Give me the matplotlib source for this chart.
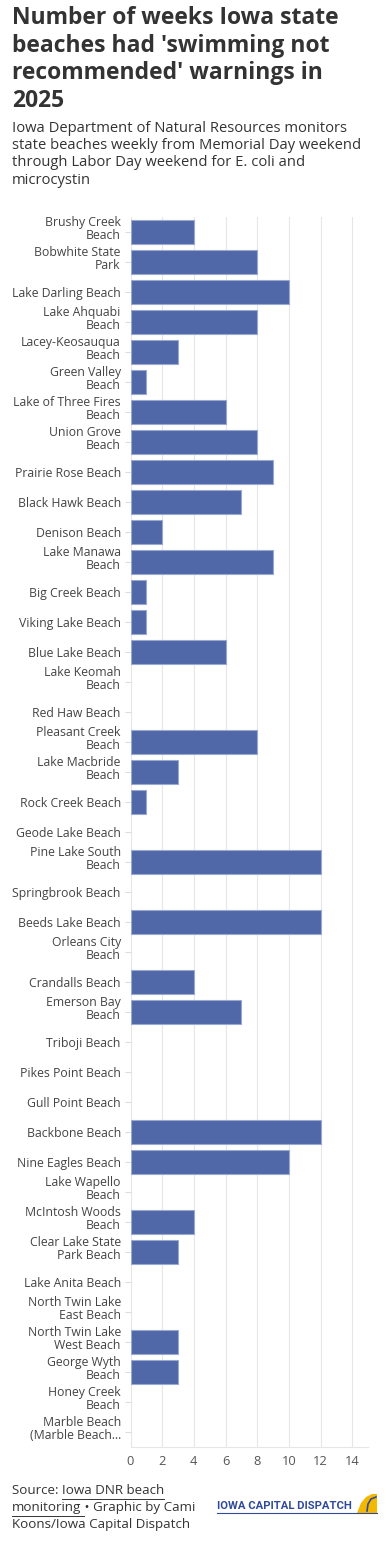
import matplotlib
matplotlib.use("Agg")
import matplotlib.pyplot as plt
from matplotlib.patches import Polygon
from matplotlib.transforms import ScaledTranslation

beaches = [
    "Brushy Creek\nBeach", "Bobwhite State\nPark", "Lake Darling Beach", "Lake Ahquabi\nBeach",
    "Lacey-Keosauqua\nBeach", "Green Valley\nBeach", "Lake of Three Fires\nBeach", "Union Grove\nBeach",
    "Prairie Rose Beach", "Black Hawk Beach", "Denison Beach", "Lake Manawa\nBeach",
    "Big Creek Beach", "Viking Lake Beach", "Blue Lake Beach", "Lake Keomah\nBeach",
    "Red Haw Beach", "Pleasant Creek\nBeach", "Lake Macbride\nBeach", "Rock Creek Beach",
    "Geode Lake Beach", "Pine Lake South\nBeach", "Springbrook Beach", "Beeds Lake Beach",
    "Orleans City\nBeach", "Crandalls Beach", "Emerson Bay\nBeach", "Triboji Beach",
    "Pikes Point Beach", "Gull Point Beach", "Backbone Beach", "Nine Eagles Beach",
    "Lake Wapello\nBeach", "McIntosh Woods\nBeach", "Clear Lake State\nPark Beach", "Lake Anita Beach",
    "North Twin Lake\nEast Beach", "North Twin Lake\nWest Beach", "George Wyth\nBeach", "Honey Creek\nBeach",
    "Marble Beach\n(Marble Beach...",
]
weeks = [4, 8, 10, 8, 3, 1, 6, 8, 9, 7, 2, 9, 1, 1, 6, 0, 0, 8, 3, 1, 0, 12, 0, 12, 0,
         4, 7, 0, 0, 0, 12, 10, 0, 4, 3, 0, 0, 3, 3, 0, 0]
xticks = [0, 2, 4, 6, 8, 10, 12, 14]

FONT = ["Open Sans", "DejaVu Sans"]
plt.rcParams['font.family'] = FONT

W, H = 389, 1552
fig = plt.figure(figsize=(W / 100, H / 100), dpi=100)
ax = fig.add_axes([130.5 / W, (H - 1447) / H, (368 - 130.5) / W, 1230 / H])

y = list(range(len(beaches)))
lws = [0.8 if v > 0 else 0 for v in weeks]
ax.barh(y, weeks, height=0.8, color="#5067a8", edgecolor="#9aa9d2", linewidth=lws, zorder=3)
ax.set_ylim(len(beaches) - 0.5, -0.5)
ax.set_xlim(0, 15)
ax.set_yticks(y)
ax.set_yticklabels(beaches, fontsize=8.8, color="#444444", linespacing=0.98)
ax.set_xticks(xticks)
ax.set_xticklabels([str(t) for t in xticks], fontsize=9.3, color="#555555")
ax.tick_params(axis='y', length=4, color="#dddddd", pad=3)
ax.tick_params(axis='x', length=0, pad=6)
ax.grid(axis='x', color="#e6e6e6", linewidth=0.8, zorder=0)
for s in ['top', 'right', 'left']:
    ax.spines[s].set_visible(False)
ax.spines['bottom'].set_color("#e6e6e6")
ax.spines['bottom'].set_linewidth(0.8)
for lbl in ax.get_yticklabels():
    if "\n" in lbl.get_text():
        lbl.set_transform(lbl.get_transform() + ScaledTranslation(0, 3 / 72, fig.dpi_scale_trans))

fig.text(12 / W, 1 - 6 / H,
         "Number of weeks Iowa state\nbeaches had 'swimming not\nrecommended' warnings in\n2025",
         fontsize=16.5, fontweight='bold', color="#333333", va='top', ha='left', linespacing=1.2)
fig.text(12 / W, 1 - 121 / H,
         "Iowa Department of Natural Resources monitors\nstate beaches weekly from Memorial Day weekend\nthrough Labor Day weekend for E. coli and\nmicrocystin",
         fontsize=10.6, color="#333333", va='top', ha='left', linespacing=1.2)

# footer
fig.canvas.draw()
r = fig.canvas.get_renderer()
fs = 9.6
t1 = fig.text(12 / W, 1 - 1484 / H, "Source: ", fontsize=fs, color="#333333", va='top', ha='left')
e1 = t1.get_window_extent(r)
t2 = fig.text(e1.x1 / W, 1 - 1484 / H, "Iowa DNR beach", fontsize=fs, color="#333333", va='top', ha='left')
e2 = t2.get_window_extent(r)
t3 = fig.text(12 / W, 1 - 1501 / H, "monitoring", fontsize=fs, color="#333333", va='top', ha='left')
e3 = t3.get_window_extent(r)
fig.text(e3.x1 / W, 1 - 1501 / H, " \u2022 Graphic by Cami", fontsize=fs, color="#333333", va='top', ha='left')
fig.text(12 / W, 1 - 1518 / H, "Koons/Iowa Capital Dispatch", fontsize=fs, color="#333333", va='top', ha='left')
fig.add_artist(plt.Line2D([e2.x0 / W, e2.x1 / W], [1 - 1499 / H, 1 - 1499 / H], color="#333333", lw=0.7))
fig.add_artist(plt.Line2D([12 / W, (e3.x1 + 3) / W], [1 - 1516 / H, 1 - 1516 / H], color="#333333", lw=0.7))

# logo
lt = fig.text(217 / W, 1 - 1509 / H, "IOWA CAPITAL DISPATCH", fontsize=10, fontweight='bold',
              color="#2f4a9a", va='baseline', ha='left', family=["Roboto", "DejaVu Sans"])
le = lt.get_window_extent(r)
lt.set_fontsize(10 * 134 / le.width)
fig.add_artist(plt.Line2D([217 / W, 377 / W], [1 - 1513 / H, 1 - 1513 / H], color="#2f4a9a", lw=0.8))
fig.add_artist(Polygon([[357 / W, 1 - 1513 / H], [377 / W, 1 - 1513 / H], [377 / W, 1 - 1494 / H],
                        [372 / W, 1 - 1494 / H], [366 / W, 1 - 1497 / H], [361 / W, 1 - 1503 / H]],
                       closed=True, transform=fig.transFigure, facecolor="#f5b800", edgecolor="none"))
fig.add_artist(plt.Line2D([367 / W, 368 / W, 371 / W, 376 / W],
                          [1 - 1511 / H, 1 - 1504 / H, 1 - 1499 / H, 1 - 1497 / H],
                          color="#2f4a9a", lw=1.2))

fig.savefig("out.png", dpi=100)
